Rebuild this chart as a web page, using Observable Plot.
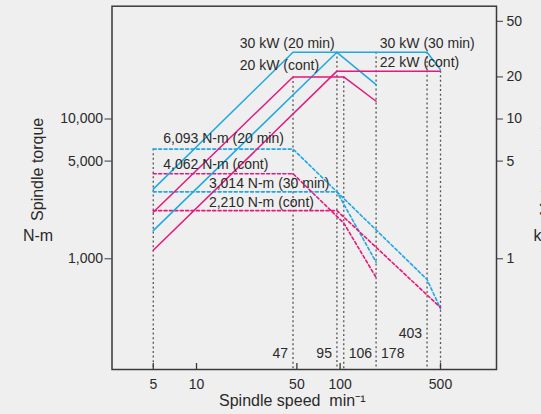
<!DOCTYPE html>
<html>
<head>
<meta charset="utf-8">
<script src="https://cdn.jsdelivr.net/npm/d3@7"></script>
<script src="https://cdn.jsdelivr.net/npm/@observablehq/plot@0.6"></script>
<style>
  html, body { margin: 0; padding: 0; background: #efefef; }
  #chart { width: 541px; height: 414px; }
</style>
</head>
<body>
<div id="chart"></div>
<script>
// ---- Axis ticks ----
const speedTicks = [5, 10, 50, 100, 500];          // min^-1
const torqueTicks = [1000, 5000, 10000];           // N-m (left axis)
const powerTicks = [1, 5, 10, 20, 50];             // kW (right axis)

// Shared log scale: 1 kW on the right axis sits at 1,000 N-m on the left axis
const kWtoY = 1000;

// ---- Motor output curves (kW vs spindle speed) ----
const pLow20Speed = [5, 47, 95, 178];
const pLow20kW = [3.15, 30, 30, 17.6];
const pHigh30Speed = [5, 95, 403, 500];
const pHigh30kW = [1.59, 30, 30, 22.5];
const pLowContSpeed = [5, 47, 106, 178];
const pLowContkW = [2.15, 20, 20, 13.4];
const pHighContSpeed = [5, 95, 500];
const pHighContkW = [1.15, 22, 22];

// ---- Spindle torque curves (N-m vs spindle speed) ----
const tLow20Speed = [5, 47, 95, 178];
const tLow20Nm = [6093, 6093, 3014, 946];
const tHigh30Speed = [5, 95, 403, 500];
const tHigh30Nm = [3014, 3014, 711, 440];
const tLowContSpeed = [5, 47, 106, 178];
const tLowContNm = [4062, 4062, 1802, 735];
const tHighContSpeed = [5, 95, 500];
const tHighContNm = [2210, 2210, 448];

// ---- Reference speeds (dotted verticals) and the level they start from ----
const refSpeeds = [5, 47, 95, 106, 178, 403, 500];
const refTop = [6093, 20 * kWtoY, 30 * kWtoY, 20 * kWtoY, 30 * kWtoY, 30 * kWtoY, 22 * kWtoY];
const refLabelSpeeds = [47, 95, 106, 178, 403];
const refLabels = ["47", "95", "106", "178", "403"];

// ---- Annotations ----
const noteText = ["30 kW (20 min)", "30 kW (30 min)", "20 kW (cont)", "22 kW (cont)",
  "6,093 N-m (20 min)", "4,062 N-m (cont)", "3,014 N-m (30 min)", "2,210 N-m (cont)"];
const noteSpeed = [20, 189, 20, 189, 5.87, 5.87, 12.2, 12.2];
const noteLevel = [34850, 34850, 24140, 25230, 7290, 4703, 3440, 2540];

const xDomain = [2.58, 1227];
const yDomain = [161.5, 64120];

const BLUE = "#1fa8e3";
const PINK = "#e4187e";
const TEXT = "#2a2a2a";
const DOT = "#555555";

const rows = (sp, v, mul = 1) => sp.map((s, i) => ({speed: s, value: v[i] * mul}));

const W = 541, H = 414;
const mL = 111.5, mR = 45, mT = 5.7, mB = 45;
const frameH = H - mT - mB;

const solid = {x: "speed", y: "value", strokeWidth: 1.5};
const dashed = {x: "speed", y: "value", strokeWidth: 1.6, strokeDasharray: "3,2.4"};

const refRows = refSpeeds.map((s, i) => ({speed: s, top: refTop[i]}));
const labelRows = refLabelSpeeds.map((s, i) => ({speed: s, label: refLabels[i]}));
const noteRows = noteText.map((t, i) => ({text: t, speed: noteSpeed[i], level: noteLevel[i]}));

const chart = Plot.plot({
  width: W,
  height: H,
  marginLeft: mL, marginRight: mR, marginTop: mT, marginBottom: mB,
  style: {fontFamily: "Liberation Sans, Arial, sans-serif", fontSize: "14px", background: "#efefef", color: TEXT},
  x: {type: "log", domain: xDomain},
  y: {type: "log", domain: yDomain},
  marks: [
    // dotted reference lines
    Plot.ruleX(refRows, {x: "speed", y1: "top", y2: () => yDomain[0], stroke: DOT, strokeWidth: 1.3, strokeDasharray: "2,2.6"}),
    // torque (dashed)
    Plot.line(rows(tLow20Speed, tLow20Nm), {...dashed, stroke: BLUE}),
    Plot.line(rows(tHigh30Speed, tHigh30Nm), {...dashed, stroke: BLUE}),
    Plot.line(rows(tLowContSpeed, tLowContNm), {...dashed, stroke: PINK}),
    Plot.line(rows(tHighContSpeed, tHighContNm), {...dashed, stroke: PINK}),
    // power (solid)
    Plot.line(rows(pLow20Speed, pLow20kW, kWtoY), {...solid, stroke: BLUE}),
    Plot.line(rows(pHigh30Speed, pHigh30kW, kWtoY), {...solid, stroke: BLUE}),
    Plot.line(rows(pLowContSpeed, pLowContkW, kWtoY), {...solid, stroke: PINK}),
    Plot.line(rows(pHighContSpeed, pHighContkW, kWtoY), {...solid, stroke: PINK}),
    // frame
    Plot.frame({stroke: "#3a3a3a", strokeWidth: 1.5}),
    // bottom ticks (inside)
    Plot.ruleX(speedTicks, {x: d => d, insetTop: frameH - 6, stroke: "#3a3a3a", strokeWidth: 1.3}),
    Plot.axisX(speedTicks, {anchor: "bottom", ticks: Infinity, tickSize: 0, tickPadding: 10, tickFormat: d => String(d), label: null, fontSize: 14, fill: TEXT}),
    Plot.axisY(torqueTicks, {anchor: "left", ticks: Infinity, tickSize: 7, tickPadding: 2, tickFormat: d3.format(","), label: null, fontSize: 14, fill: TEXT, stroke: "#3a3a3a"}),
    Plot.axisY(powerTicks.map(p => p * kWtoY), {anchor: "right", ticks: Infinity, tickSize: 6, tickPadding: 4, tickFormat: d => String(d / kWtoY), label: null, fontSize: 14, fill: TEXT, stroke: "#3a3a3a"}),
    // reference speed labels
    Plot.text(labelRows.filter(d => d.label === "47" || d.label === "95"), {x: "speed", text: "label", frameAnchor: "bottom", lineAnchor: "middle", dy: -16, dx: -5, textAnchor: "end", fontSize: 14, fill: TEXT}),
    Plot.text(labelRows.filter(d => d.label === "106" || d.label === "178"), {x: "speed", text: "label", frameAnchor: "bottom", lineAnchor: "middle", dy: -16, dx: 5, textAnchor: "start", fontSize: 14, fill: TEXT}),
    Plot.text(labelRows.filter(d => d.label === "403"), {x: "speed", text: "label", frameAnchor: "bottom", lineAnchor: "middle", dy: -36, dx: -5, textAnchor: "end", fontSize: 14, fill: TEXT}),
    // annotations
    Plot.text(noteRows, {x: "speed", y: "level", text: "text", textAnchor: "start", fontSize: 14, fill: TEXT}),
    // axis titles
    Plot.text(["Spindle torque"], {frameAnchor: "left", textAnchor: "middle", lineAnchor: "middle", dx: -74, dy: -18.5, rotate: -90, fontSize: 16, fill: TEXT}),
    Plot.text(["N-m"], {frameAnchor: "left", textAnchor: "middle", lineAnchor: "middle", dx: -74, dy: 47.7, fontSize: 16, fill: TEXT}),
    Plot.text(["Motor output"], {frameAnchor: "right", textAnchor: "middle", lineAnchor: "middle", dx: 50, dy: -17, rotate: -90, fontSize: 16, fill: TEXT}),
    Plot.text(["kW"], {frameAnchor: "right", textAnchor: "start", lineAnchor: "middle", dx: 37, dy: 47.7, fontSize: 16, fill: TEXT}),
    Plot.text(["Spindle speed  min\u207B\u00B9"], {frameAnchor: "bottom", textAnchor: "middle", lineAnchor: "middle", dx: -12, dy: 31, fontSize: 16, fill: TEXT})
  ]
});

document.getElementById("chart").appendChild(chart);
</script>
</body>
</html>
